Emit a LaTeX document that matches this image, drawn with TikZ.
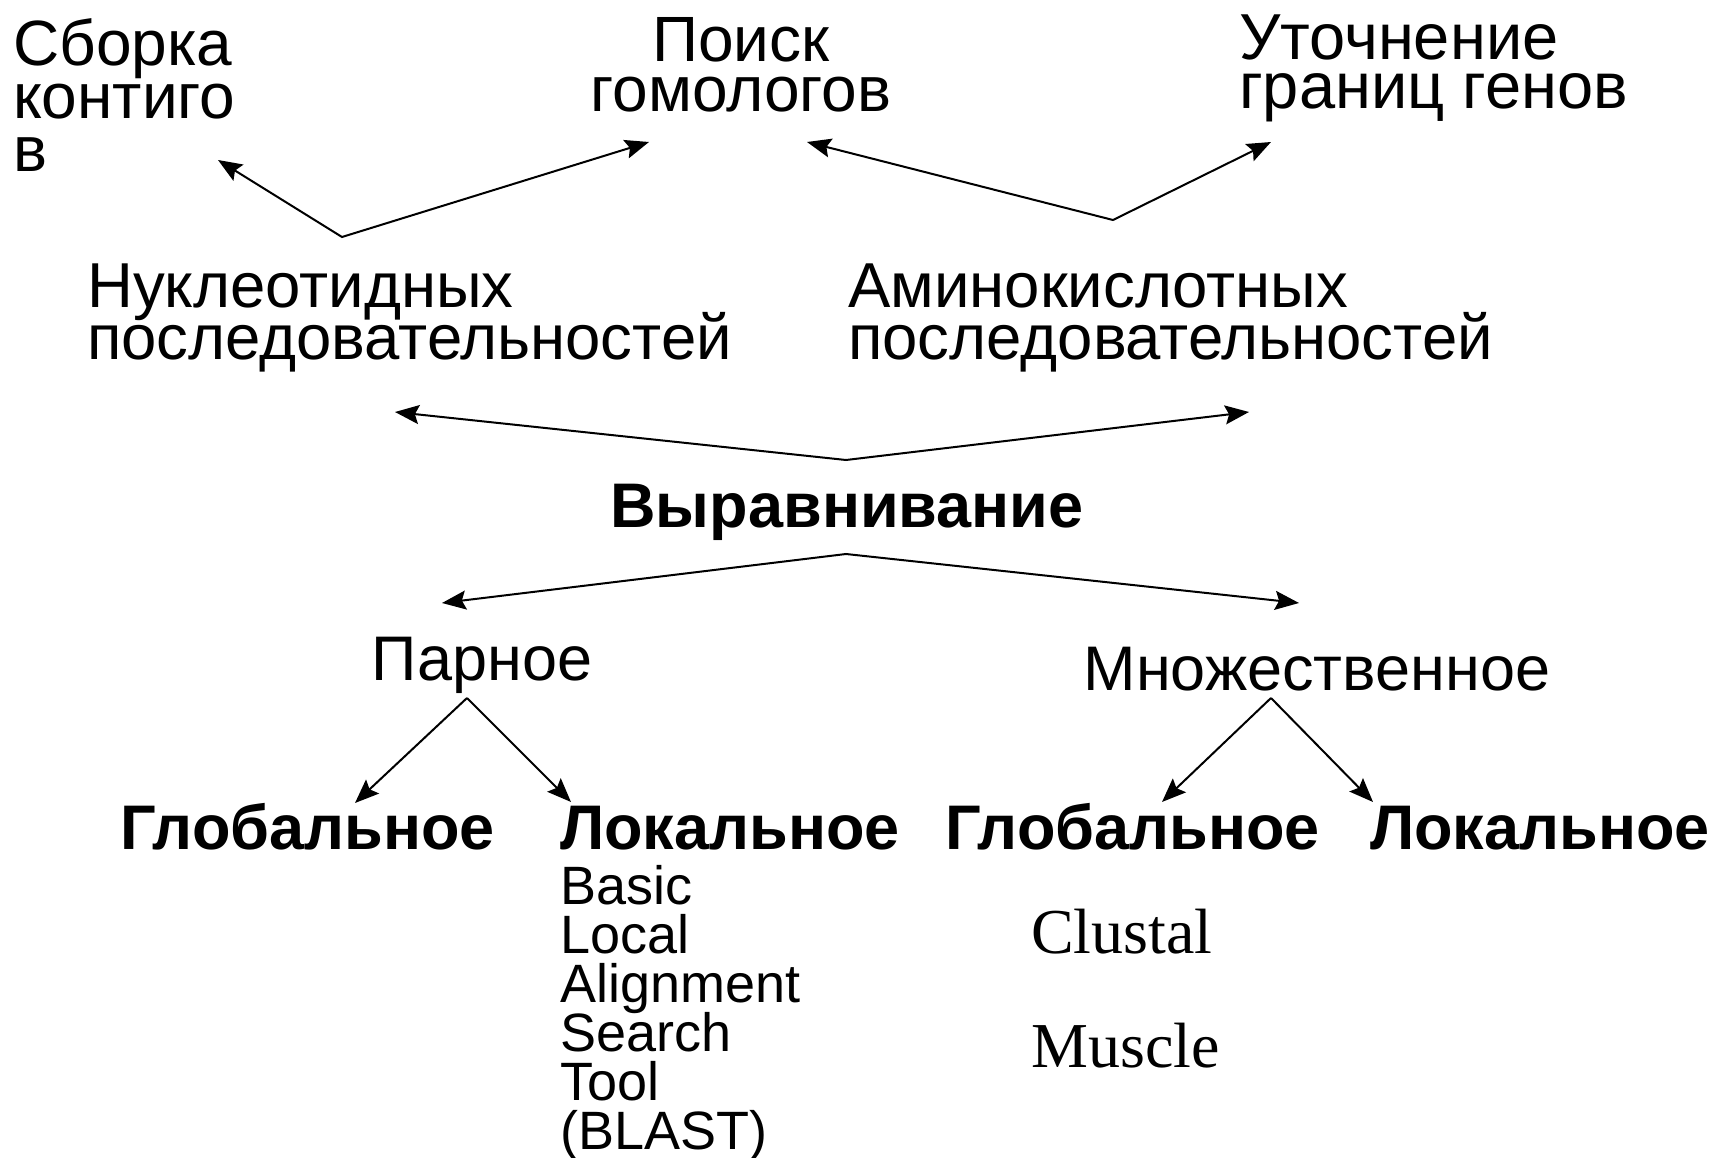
\documentclass[tikz,border=0pt]{standalone}
\usepackage{fontspec}
\setmainfont{Liberation Sans}
\newfontfamily\timesfam{Liberation Serif}
\usetikzlibrary{arrows.meta}
\newcommand\linesL[1]{\vtop{\halign{##\hfil\cr#1\crcr}}}
\newcommand\linesC[1]{\vtop{\halign{\hfil##\hfil\cr#1\crcr}}}
\begin{document}
\begin{tikzpicture}[x=1pt,y=-1pt,
  txt/.style={inner sep=0pt, font={\fontsize{64}{52}\selectfont\lineskiplimit=-1000pt}},
  bold/.style={inner sep=0pt, font={\fontsize{63}{52}\selectfont\bfseries}},
  small/.style={inner sep=0pt, font={\fontsize{54}{49}\selectfont\lineskiplimit=-1000pt}},
  serif/.style={inner sep=0pt, font={\timesfam\fontsize{64}{64}\selectfont}},
  conn/.style={line width=2pt, {Stealth[length=24pt,width=19pt,inset=4pt]}-{Stealth[length=24pt,width=19pt,inset=4pt]}},
  one/.style={line width=2pt, -{Stealth[length=24pt,width=19pt,inset=4pt]}}]
\useasboundingbox[fill=white] (0,0) rectangle (1711,1158);

% texts
\node[txt, anchor=base west, font={\fontsize{64}{53}\selectfont\lineskiplimit=-1000pt}] (sborka) at (13,66) {\linesL{Сборка\cr контиго\cr в}};
\node[txt, anchor=base, font={\fontsize{64}{50}\selectfont\lineskiplimit=-1000pt}] (poisk) at (741,62) {\linesC{Поиск\cr гомологов}};
\node[txt, anchor=base west, font={\fontsize{65}{49}\selectfont\lineskiplimit=-1000pt}] (utoch) at (1239,60) {\linesL{Уточнение\cr границ генов}};
\node[txt, anchor=base west, font={\fontsize{63.5}{52}\selectfont\lineskiplimit=-1000pt}] (nukl) at (87,308) {\linesL{Нуклеотидных\cr последовательностей}};
\node[txt, anchor=base west, font={\fontsize{63.5}{52}\selectfont\lineskiplimit=-1000pt}] (amino) at (848,308) {\linesL{Аминокислотных\cr последовательностей}};
\node[bold, anchor=base] (vyr) at (847,527) {Выравнивание};
\node[txt, anchor=base, font={\fontsize{63}{52}\selectfont}] (parn) at (482,680) {Парное};
\node[txt, anchor=base, font={\fontsize{63}{52}\selectfont}] (mnozh) at (1317,690) {Множественное};
\node[bold, anchor=base west] (glob1) at (120,849) {Глобальное};
\node[bold, anchor=base west] (lok1) at (560,849) {Локальное};
\node[bold, anchor=base west] (glob2) at (945,849) {Глобальное};
\node[bold, anchor=base west] (lok2) at (1370,849) {Локальное};
\node[small, anchor=base west] (blast) at (560,904) {\linesL{Basic\cr Local\cr Alignment\cr Search\cr Tool\cr (BLAST)}};
\node[serif, anchor=base west] (clustal) at (1031,953) {Clustal};
\node[serif, anchor=base west] (muscle) at (1031,1067) {Muscle};

% connector points
\coordinate (tSb) at (218,160);
\coordinate (vA) at (342,237);
\coordinate (tPa) at (649,142);
\coordinate (tPb) at (807,142);
\coordinate (vB) at (1113,220);
\coordinate (tUt) at (1271,142);
\coordinate (tNu) at (395,412);
\coordinate (vC) at (846,460);
\coordinate (tAm) at (1249,412);
\coordinate (tPr) at (442,603);
\coordinate (vD) at (846,554);
\coordinate (tMn) at (1299,603);
\coordinate (vE) at (467,698);
\coordinate (tG1) at (355,803);
\coordinate (tL1) at (571,802);
\coordinate (vF) at (1271,698);
\coordinate (tG2) at (1162,802);
\coordinate (tL2) at (1373,802);

\draw[conn] (tSb) -- (vA) -- (tPa);
\draw[conn] (tPb) -- (vB) -- (tUt);
\draw[conn] (tNu) -- (vC) -- (tAm);
\draw[conn] (tPr) -- (vD) -- (tMn);
\draw[one] (vE) -- (tG1);
\draw[one] (vE) -- (tL1);
\draw[one] (vF) -- (tG2);
\draw[one] (vF) -- (tL2);
\end{tikzpicture}
\end{document}
